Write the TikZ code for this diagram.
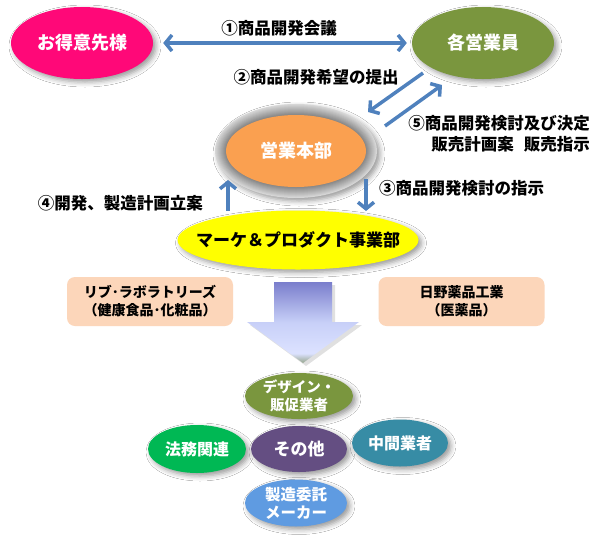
\documentclass[tikz,border=0pt]{standalone}
\usepackage{fontspec}
\setmainfont{Noto Sans CJK JP}
\usetikzlibrary{shapes.geometric,arrows.meta,shadows.blur}
\definecolor{cmag}{RGB}{255,8,120}
\definecolor{colive}{RGB}{122,150,62}
\definecolor{corange}{RGB}{250,160,80}
\definecolor{cyel}{RGB}{255,255,0}
\definecolor{cpeach}{RGB}{252,214,186}
\definecolor{cgreen}{RGB}{0,184,84}
\definecolor{cpurple}{RGB}{100,78,130}
\definecolor{cteal}{RGB}{55,140,165}
\definecolor{cblue}{RGB}{95,155,225}
\definecolor{carrow}{RGB}{79,129,189}
\definecolor{cgtop}{RGB}{122,126,204}
\definecolor{cgmid}{RGB}{200,208,248}
\definecolor{cglight}{RGB}{220,226,255}
\definecolor{cgbot}{RGB}{150,165,140}
\pgfdeclareverticalshading{bigarrshade}{100bp}{color(0bp)=(cgbot); color(25bp)=(cgbot); color(31bp)=(cglight); color(50bp)=(cgmid); color(75bp)=(cgtop); color(100bp)=(cgtop)}
\begin{document}
\begin{tikzpicture}[x=1pt,y=-1pt,
  oval/.style={ellipse, inner xsep=-25pt, inner ysep=-10pt, draw=none, text=white, font=\bfseries\fontsize{18}{20}\selectfont, align=center},
  shd/.style={blur shadow={shadow xshift=3pt,shadow yshift=-3pt,shadow blur radius=5pt,shadow opacity=40}},
  small/.style={oval, shd, font=\bfseries\fontsize{16}{18}\selectfont},
  lbl/.style={font=\bfseries\fontsize{16.5}{21}\selectfont, text=black, inner sep=0pt},
  box/.style={rectangle, rounded corners=8pt, fill=cpeach, draw=none, minimum width=166pt, minimum height=49pt, align=center, inner sep=0pt, font=\bfseries\fontsize{14}{18}\selectfont},
  tipb/.tip={Straight Barb[length=6.5pt,width=16pt]},
  biarr/.style={draw=carrow, line width=3.5pt, tipb-tipb},
  onearr/.style={draw=carrow, line width=3.5pt, -tipb}]
\useasboundingbox (0,0) rectangle (600,542);
\fill[white] (0,0) rectangle (600,542);

% top ellipses
\node[oval, shd, fill=cmag, minimum width=142pt, minimum height=72pt] (cust) at (82,43) {お得意先様};
\node[oval, shd, fill=colive, minimum width=142pt, minimum height=72pt] (sales) at (483,43) {各営業員};
\draw[biarr, shorten <=10pt, shorten >=5pt] (cust) -- (sales);
\node[lbl] (l1) at (279,28) {①商品開発会議};
\node[lbl] (l2) at (316,77) {②商品開発希望の提出};

% headquarters with ring
\node[ellipse, inner sep=0pt, minimum width=162pt, minimum height=94pt, fill=black!16, shd] (ring) at (296,151) {};
\foreach \i in {1,...,11}{\pgfmathtruncatemacro\g{16+3*\i}\fill[black!\g] (ring.center) ellipse [x radius={81-\i}, y radius={47-\i}];}
\node[oval, fill=corange, minimum width=140pt, minimum height=72pt] (hq) at (296,151) {営業本部};

% diagonal arrows
\coordinate (a1s) at (423,73);
\coordinate (a1e) at (368,112);
\coordinate (a2s) at (385,126);
\coordinate (a2e) at (442,85);
\draw[onearr] (a1s) -- (a1e);
\draw[onearr] (a2s) -- (a2e);
\node[lbl, anchor=east, align=right] (l5) at (590,133.5) {⑤商品開発検討及び決定\\販売計画案\hspace{0.6em}販売指示};

% yellow
\node[oval, shd, fill=cyel, text=black, minimum width=241pt, minimum height=59pt, font=\bfseries\fontsize{17}{20}\selectfont] (mkt) at (298,240) {マーケ＆プロダクト事業部};

% vertical arrows
\coordinate (a3s) at (366,179);
\coordinate (a3e) at (366,211);
\coordinate (a4s) at (228,211);
\coordinate (a4e) at (228,180);
\draw[onearr] (a3s) -- (a3e);
\draw[onearr] (a4s) -- (a4e);
\node[lbl, anchor=west] (l3) at (379,188) {③商品開発検討の指示};
\node[lbl, anchor=east] (l4) at (203,203) {④開発、製造計画立案};

% boxes
\node[box] (liv) at (150,301.5) {リブ･ラボラトリーズ\\（健康食品･化粧品）};
\node[box] (hino) at (461.5,301.5) {日野薬品工業\\（医薬品）};

% big arrow
\fill[black, opacity=0.12] (277,285) -- (335,285) -- (335,325) -- (362,325) -- (306,366) -- (250,325) -- (277,325) -- cycle;
\shade[shading=bigarrshade] (274,282) -- (332,282) -- (332,322) -- (359,322) -- (303,363) -- (247,322) -- (274,322) -- cycle;

% small ellipses
\node[small, fill=colive, minimum width=108pt, minimum height=46pt, font=\bfseries\fontsize{14.5}{18}\selectfont] (design) at (299,396) {デザイン・\\販促業者};
\node[small, fill=cgreen, minimum width=98pt, minimum height=48pt] (legal) at (197,449) {法務関連};
\node[small, fill=cpurple, minimum width=96pt, minimum height=46pt, font=\bfseries\fontsize{17}{18}\selectfont] (other) at (299,449) {その他};
\node[small, fill=cteal, minimum width=96pt, minimum height=47pt] (mid) at (400,443) {中間業者};
\node[small, fill=cblue, minimum width=102pt, minimum height=47pt, font=\bfseries\fontsize{15.5}{18}\selectfont] (mfg) at (296,503) {製造委託\\メーカー};
\end{tikzpicture}
\end{document}
